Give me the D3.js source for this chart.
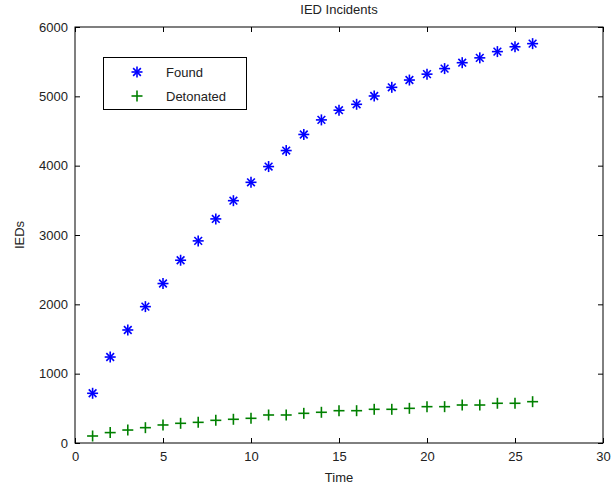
<!DOCTYPE html>
<html>
<head>
<meta charset="utf-8" />
<style>
    body { margin: 0; background: #fff; }
    svg { display: block; font-family: "Liberation Sans", Arial, sans-serif; }
    .tick text { font-size: 13px; fill: #222; }
</style>
</head>
<body>
<div id="chart"></div>
<script src="https://d3js.org/d3.v7.min.js"></script>
<script>
    var time = d3.range(1, 27);
    var found = [717, 1240, 1630, 1967, 2300, 2636, 2915, 3232, 3495, 3760, 3987, 4218, 4450, 4660,
                 4800, 4885, 5005, 5130, 5235, 5320, 5400, 5485, 5555, 5645, 5715, 5760];
    var detonated = [101, 150, 187, 221, 260, 284, 298, 327, 342, 356, 404, 404, 428, 443,
                     466, 466, 486, 486, 500, 524, 524, 548, 548, 573, 573, 596];
    var xTicks = [0, 5, 10, 15, 20, 25, 30];
    var yTicks = [0, 1000, 2000, 3000, 4000, 5000, 6000];
    var seriesNames = ['Found', 'Detonated'];

    (function() {
    var width = 611, height = 493;
    var pLeft = 75, pRight = 603, pTop = 27, pBottom = 443;

    var svg = d3.select('#chart').append('svg')
        .attr('width', width)
        .attr('height', height);

    var x = d3.scaleLinear().domain([0, 30]).range([pLeft, pRight]);
    var y = d3.scaleLinear().domain([0, 6000]).range([pBottom, pTop]);

    // inward ticks on all four sides, labels only bottom/left
    svg.append('g')
        .attr('transform', 'translate(0,' + pBottom + ')')
        .call(d3.axisBottom(x).tickValues(xTicks).tickSizeInner(-5).tickSizeOuter(0).tickPadding(9));
    svg.append('g')
        .attr('transform', 'translate(0,' + pTop + ')')
        .call(d3.axisTop(x).tickValues(xTicks).tickSizeInner(-5).tickSizeOuter(0).tickFormat(''));
    svg.append('g')
        .attr('transform', 'translate(' + pLeft + ',0)')
        .call(d3.axisLeft(y).tickValues(yTicks).tickSizeInner(-5).tickSizeOuter(0).tickPadding(7).tickFormat(d3.format('d')));
    svg.append('g')
        .attr('transform', 'translate(' + pRight + ',0)')
        .call(d3.axisRight(y).tickValues(yTicks).tickSizeInner(-5).tickSizeOuter(0).tickFormat(''));

    svg.selectAll('.domain').remove();
    svg.selectAll('.tick line').attr('stroke', '#000');

    svg.append('rect')
        .attr('x', pLeft).attr('y', pTop)
        .attr('width', pRight - pLeft).attr('height', pBottom - pTop)
        .attr('fill', 'none').attr('stroke', '#000').attr('stroke-width', 1);

    var s = 5.5;
    function plus(g, c) {
        g.append('line').attr('x1', -s).attr('x2', s).attr('y1', 0).attr('y2', 0);
        g.append('line').attr('x1', 0).attr('x2', 0).attr('y1', -s).attr('y2', s);
        g.selectAll('line').attr('stroke', c).attr('stroke-width', 1.6);
    }
    function star(g, c) {
        var d = s * 0.7;
        g.append('line').attr('x1', -s).attr('x2', s).attr('y1', 0).attr('y2', 0);
        g.append('line').attr('x1', 0).attr('x2', 0).attr('y1', -s).attr('y2', s);
        g.append('line').attr('x1', -d).attr('x2', d).attr('y1', -d).attr('y2', d);
        g.append('line').attr('x1', -d).attr('x2', d).attr('y1', d).attr('y2', -d);
        g.selectAll('line').attr('stroke', c).attr('stroke-width', 1.6);
    }

    svg.selectAll('.found')
        .data(time)
        .enter().append('g')
        .attr('class', 'found')
        .attr('transform', function(d, i) { return 'translate(' + x(d) + ',' + y(found[i]) + ')'; })
        .each(function() { star(d3.select(this), '#0000ff'); });

    svg.selectAll('.det')
        .data(time)
        .enter().append('g')
        .attr('class', 'det')
        .attr('transform', function(d, i) { return 'translate(' + x(d) + ',' + y(detonated[i]) + ')'; })
        .each(function() { plus(d3.select(this), '#008000'); });

    // title and axis labels
    svg.append('text')
        .attr('x', (pLeft + pRight) / 2).attr('y', 14)
        .attr('text-anchor', 'middle').attr('font-size', 13).attr('fill', '#222')
        .text('IED Incidents');
    svg.append('text')
        .attr('x', (pLeft + pRight) / 2).attr('y', 482)
        .attr('text-anchor', 'middle').attr('font-size', 13).attr('fill', '#222')
        .text('Time');
    svg.append('text')
        .attr('transform', 'translate(24,' + ((pTop + pBottom) / 2) + ') rotate(-90)')
        .attr('text-anchor', 'middle').attr('font-size', 13).attr('fill', '#222')
        .text('IEDs');

    // legend
    var legend = svg.append('g');
    legend.append('rect')
        .attr('x', 103.5).attr('y', 57.5)
        .attr('width', 143).attr('height', 52)
        .attr('fill', '#fff').attr('stroke', '#000');
    seriesNames.forEach(function(name, i) {
        var ly = 72 + i * 24;
        var m = legend.append('g').attr('transform', 'translate(137,' + ly + ')');
        if (i === 0) star(m, '#0000ff'); else plus(m, '#008000');
        legend.append('text')
            .attr('x', 166).attr('y', ly + 5)
            .attr('font-size', 13).attr('fill', '#222')
            .text(name);
    });
    })();
</script>
</body>
</html>
